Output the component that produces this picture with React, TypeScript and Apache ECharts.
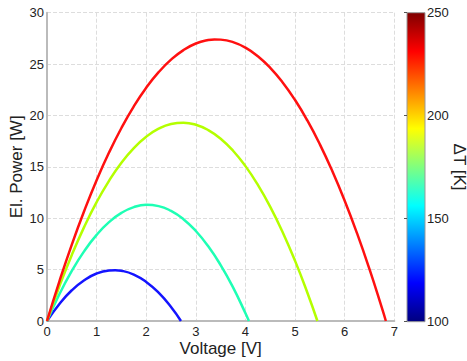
import React, { useEffect, useRef } from "react";
import * as echarts from "echarts";

// Curve data (Voltage [V] -> El. Power [W])
const vBlue = [0, 0.25, 0.5, 0.75, 1.0, 1.25, 1.375, 1.5, 1.75, 2.0, 2.25, 2.5, 2.7];
const pBlue = [0, 1.66, 2.99, 3.97, 4.62, 4.92, 4.95, 4.89, 4.52, 3.8, 2.75, 1.36, 0];

const vCyan = [0, 0.25, 0.5, 0.75, 1.0, 1.25, 1.5, 1.75, 2.0, 2.25, 2.5, 2.75, 3.0, 3.25, 3.5, 3.75, 4.0, 4.07];
const pCyan = [0, 2.61, 4.87, 6.8, 8.38, 9.62, 10.52, 11.08, 11.3, 11.18, 10.71, 9.91, 8.76, 7.27, 5.44, 3.27, 0.76, 0];

const vLime = [0, 0.25, 0.5, 0.75, 1.0, 1.25, 1.5, 1.75, 2.0, 2.25, 2.5, 2.75, 3.0, 3.25, 3.5, 3.75, 4.0, 4.25, 4.5, 4.75, 5.0, 5.25, 5.45];
const pLime = [0, 3.38, 6.43, 9.16, 11.57, 13.64, 15.4, 16.83, 17.93, 18.71, 19.17, 19.3, 19.1, 18.58, 17.74, 16.57, 15.07, 13.25, 11.11, 8.64, 5.85, 2.73, 0];

const vRed = [0, 0.25, 0.5, 0.75, 1.0, 1.25, 1.5, 1.75, 2.0, 2.25, 2.5, 2.75, 3.0, 3.25, 3.375, 3.5, 3.75, 4.0, 4.25, 4.5, 4.75, 5.0, 5.25, 5.5, 5.75, 6.0, 6.25, 6.5, 6.75, 6.83];
const pRed = [0, 3.86, 7.44, 10.71, 13.7, 16.39, 18.78, 20.89, 22.7, 24.21, 25.43, 26.36, 27.0, 27.34, 27.4, 27.38, 27.14, 26.6, 25.76, 24.63, 23.21, 21.5, 19.49, 17.19, 14.59, 11.7, 8.52, 5.04, 1.27, 0];

const curveColors = ["#1414ff", "#1effb4", "#b4ff00", "#ff1010"];

// Colorbar (ΔT [K])
const cbarMin = 100;
const cbarMax = 250;
const cbarInterval = 50;
const jetStops = ["#00007f", "#0000ff", "#00ffff", "#ffff00", "#ff0000", "#7f0000"];
const jetPos = [0, 0.125, 0.375, 0.625, 0.875, 1];

const FONT = "'Liberation Sans', Arial, sans-serif";
const TXT = "#222222";

function zip(v: number[], p: number[]) {
  return v.map((x, i) => [x, p[i]]);
}

export default function App() {
  const ref = useRef<HTMLDivElement>(null);
  useEffect(() => {
    if (!ref.current) return;
    const chart = echarts.init(ref.current, undefined, { renderer: "svg" });
    const curves = [
      zip(vBlue, pBlue),
      zip(vCyan, pCyan),
      zip(vLime, pLime),
      zip(vRed, pRed),
    ];
    const cbTop = 12.7;
    const cbH = 309;
    const cbLeft = 407;
    const cbW = 18;
    chart.setOption({
      animation: false,
      backgroundColor: "#ffffff",
      textStyle: { fontFamily: FONT },
      grid: [
        { left: 47, right: 72.7, top: 12.7, bottom: 40, outerBoundsMode: "none", containLabel: false },
        { left: cbLeft, top: cbTop, width: cbW, height: cbH, outerBoundsMode: "none", containLabel: false },
      ],
      xAxis: [
        {
          type: "value",
          gridIndex: 0,
          min: 0,
          max: 7,
          interval: 1,
          name: "Voltage [V]",
          nameLocation: "middle",
          nameGap: 19,
          nameMoveOverlap: false,
          nameTextStyle: { fontSize: 17, color: TXT, fontFamily: FONT },
          axisLine: { show: true, onZero: false, lineStyle: { color: "#bbbbbb", width: 2 } },
          axisTick: { show: false },
          axisLabel: { fontSize: 13, color: TXT, margin: 4, fontFamily: FONT },
          splitLine: { show: true, lineStyle: { color: "#dddddd", type: "dashed", width: 1 } },
        },
        {
          type: "value",
          gridIndex: 1,
          min: 0,
          max: 1,
          show: false,
        },
      ],
      yAxis: [
        {
          type: "value",
          gridIndex: 0,
          min: 0,
          max: 30,
          interval: 5,
          name: "El. Power [W]",
          nameLocation: "middle",
          nameGap: 22,
          nameMoveOverlap: false,
          nameTextStyle: { fontSize: 17, color: TXT, fontFamily: FONT },
          axisLine: { show: true, onZero: false, lineStyle: { color: "#bbbbbb", width: 2 } },
          axisTick: { show: false },
          axisLabel: { fontSize: 13, color: TXT, margin: 3, fontFamily: FONT },
          splitLine: { show: true, lineStyle: { color: "#dddddd", type: "dashed", width: 1 } },
        },
        {
          type: "value",
          gridIndex: 1,
          position: "right",
          min: cbarMin,
          max: cbarMax,
          interval: cbarInterval,
          axisLine: { show: false },
          axisTick: { show: true, inside: true, length: 3, lineStyle: { color: "#555555" } },
          axisLabel: { fontSize: 13, color: TXT, margin: 2, fontFamily: FONT },
          splitLine: { show: false },
        },
      ],
      series: [
        ...curves.map((d, i) => ({
          type: "line",
          xAxisIndex: 0,
          yAxisIndex: 0,
          data: d,
          smooth: true,
          showSymbol: false,
          symbol: "none",
          lineStyle: { color: curveColors[i], width: 2.5 },
          z: 3,
        })),
        { type: "scatter", xAxisIndex: 1, yAxisIndex: 1, data: [] },
      ],
      graphic: [
        {
          type: "rect",
          z: 0,
          shape: { x: cbLeft, y: cbTop, width: cbW, height: cbH },
          style: {
            fill: {
              type: "linear",
              x: 0,
              y: 1,
              x2: 0,
              y2: 0,
              colorStops: jetStops.map((c, i) => ({ offset: jetPos[i], color: c })),
            },
            stroke: "#999999",
            lineWidth: 1,
          },
        },
        {
          type: "text",
          x: 459,
          y: 167,
          rotation: -Math.PI / 2,
          style: {
            text: "ΔT [K]",
            fontSize: 17,
            fontFamily: FONT,
            fill: TXT,
            align: "center",
            verticalAlign: "middle",
          },
        },
      ],
    });
    return () => chart.dispose();
  }, []);
  return (
    <div
      ref={ref}
      style={{ position: "fixed", left: 0, top: 0, width: 467, height: 361 }}
    />
  );
}
